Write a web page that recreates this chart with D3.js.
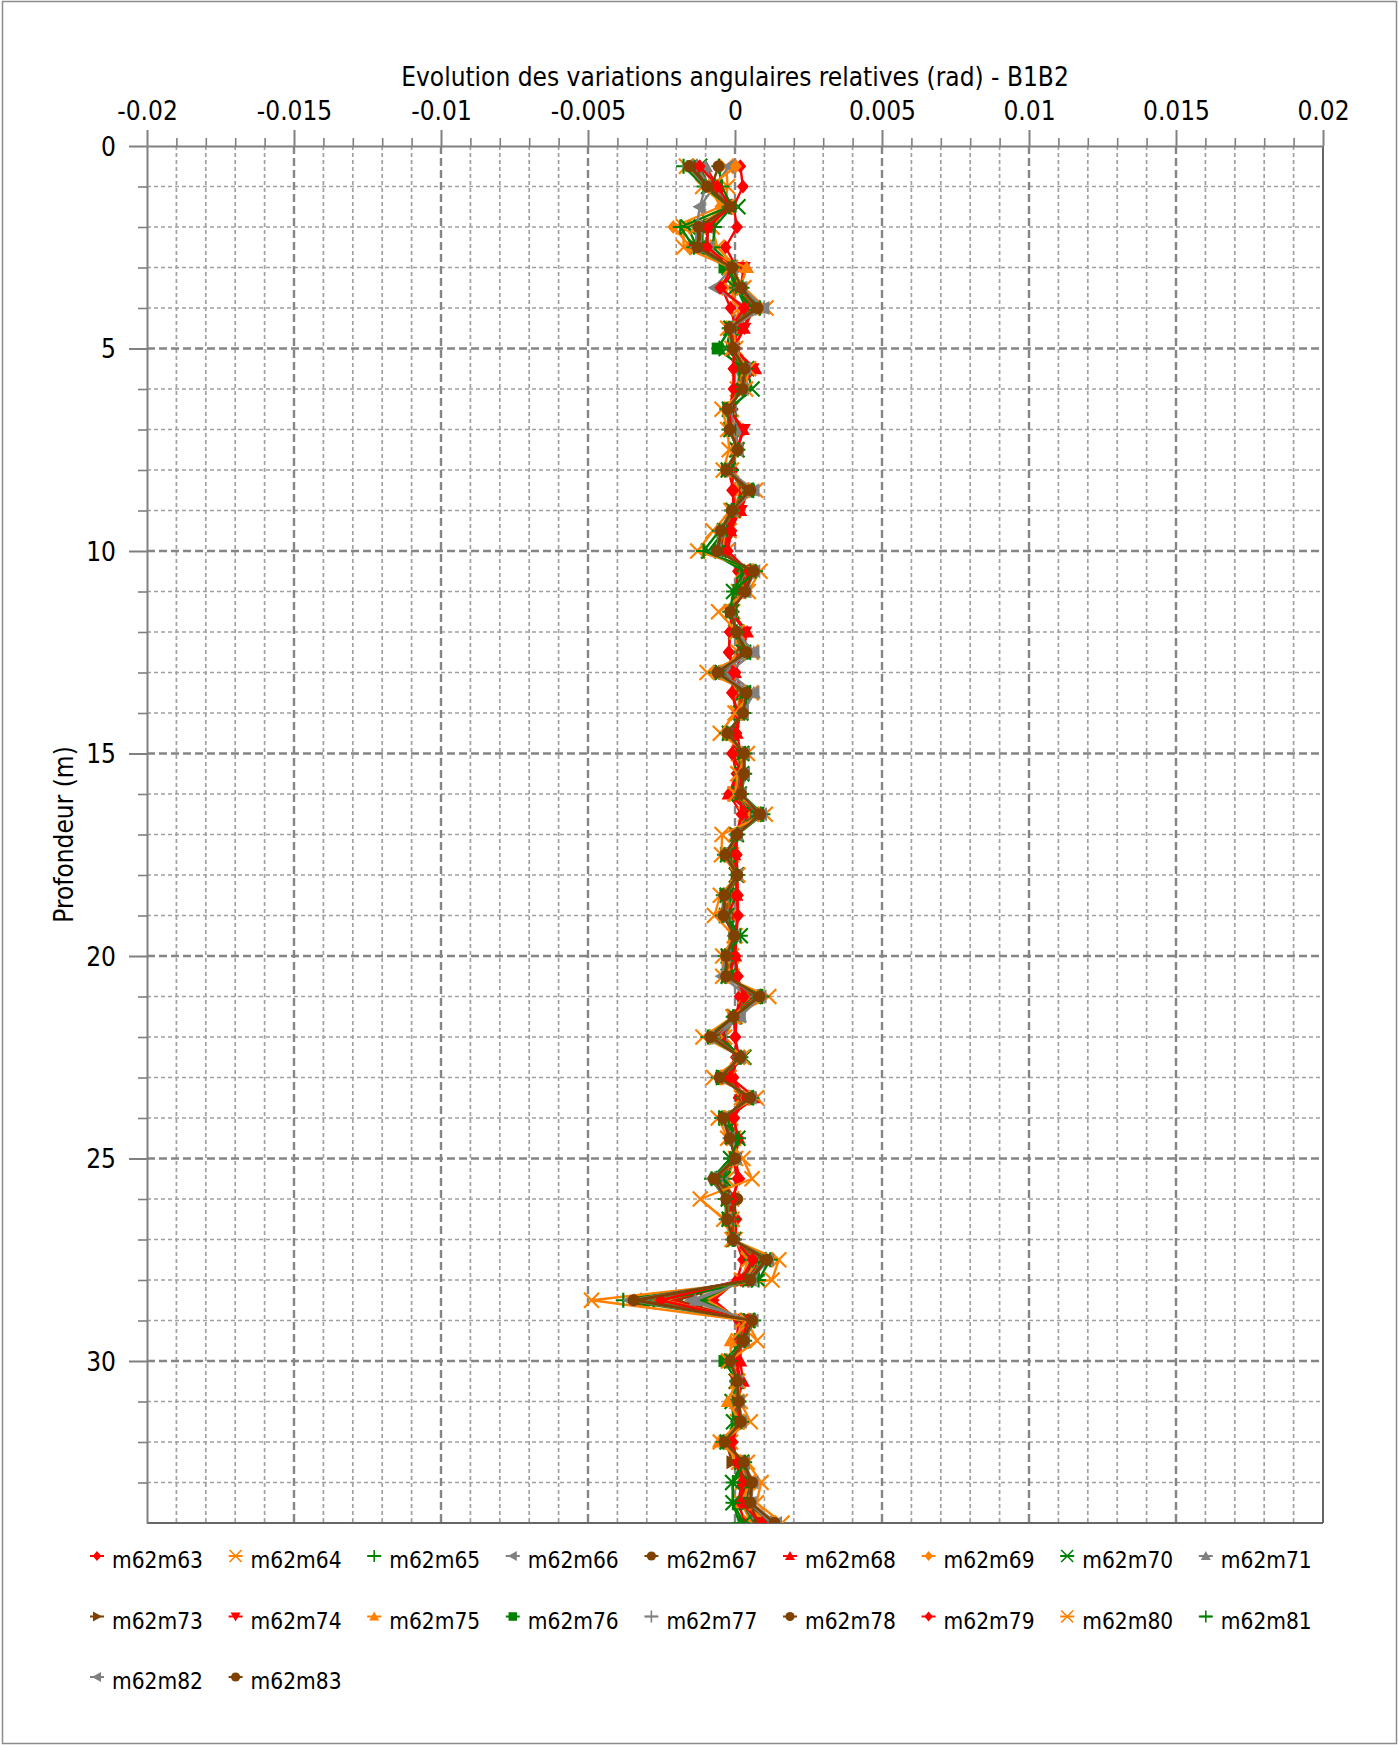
<!DOCTYPE html>
<html><head><meta charset="utf-8">
<script src="https://cdn.jsdelivr.net/npm/d3@7"></script>
<style>
html,body{margin:0;padding:0;background:#fff;}
svg text{font-family:"DejaVu Sans Condensed","DejaVu Sans",sans-serif;font-stretch:condensed;fill:#000;}
</style></head><body>
<svg id="chart" width="1399" height="1745"></svg>
<script>
// ---------------- DATA ----------------
const chartTitle = "Evolution des variations angulaires relatives (rad) - B1B2";
const yAxisTitle = "Profondeur (m)";
const xTickValues = [-0.02, -0.015, -0.01, -0.005, 0, 0.005, 0.01, 0.015, 0.02];
const xTickLabels = ["-0.02", "-0.015", "-0.01", "-0.005", "0", "0.005", "0.01", "0.015", "0.02"];
const yTickValues = [0, 5, 10, 15, 20, 25, 30];
const yTickLabels = ["0", "5", "10", "15", "20", "25", "30"];

const depths = [0.5,1,1.5,2,2.5,3,3.5,4,4.5,5,5.5,6,6.5,7,7.5,8,8.5,9,9.5,10,
10.5,11,11.5,12,12.5,13,13.5,14,14.5,15,15.5,16,16.5,17,17.5,18,18.5,19,19.5,20,
20.5,21,21.5,22,22.5,23,23.5,24,24.5,25,25.5,26,26.5,27,27.5,28,28.5,29,29.5,30,
30.5,31,31.5,32,32.5,33,33.5,34];

const seriesNames = ["m62m63","m62m64","m62m65","m62m66","m62m67","m62m68","m62m69","m62m70","m62m71",
"m62m73","m62m74","m62m75","m62m76","m62m77","m62m78","m62m79","m62m80","m62m81","m62m82","m62m83"];

const m62m63 = [0.18e-3,0.27e-3,-0.05e-3,0.07e-3,-0.32e-3,0.05e-3,-0.45e-3,-0.15e-3,0.02e-3,0.03e-3,
-0.05e-3,-0.04e-3,-0.08e-3,0.12e-3,-0.02e-3,-0.06e-3,-0.10e-3,0.02e-3,-0.12e-3,-0.25e-3,
0.10e-3,0.03e-3,-0.05e-3,-0.18e-3,-0.20e-3,0.02e-3,-0.10e-3,0.05e-3,0.03e-3,-0.10e-3,
0.05e-3,-0.20e-3,0.22e-3,0.05e-3,0.06e-3,0.08e-3,0.10e-3,0.10e-3,0.05e-3,0.02e-3,
0.10e-3,0.15e-3,0.05e-3,0.02e-3,0.03e-3,-0.05e-3,0.12e-3,-0.02e-3,0.05e-3,-0.05e-3,
0.08e-3,-0.05e-3,0.05e-3,0.02e-3,0.27e-3,0.07e-3,-0.73e-3,0.12e-3,0.05e-3,0.06e-3,
0.10e-3,0.03e-3,0.05e-3,-0.08e-3,0.06e-3,0.24e-3,0.10e-3,0.35e-3];
const m62m64 = [-0.30e-3,-0.25e-3,-0.35e-3,-0.78e-3,-0.60e-3,0.05e-3,-0.20e-3,0.15e-3,-0.05e-3,0.02e-3,
0.15e-3,0.08e-3,-0.12e-3,-0.05e-3,0.05e-3,-0.12e-3,0.20e-3,-0.05e-3,-0.20e-3,-0.28e-3,
0.25e-3,0.12e-3,-0.08e-3,0.02e-3,0.12e-3,-0.25e-3,0.15e-3,0.10e-3,-0.10e-3,0.12e-3,
0.10e-3,0.05e-3,0.35e-3,0.02e-3,-0.12e-3,0.05e-3,-0.15e-3,-0.15e-3,0,-0.12e-3,
-0.10e-3,0.35e-3,0,-0.35e-3,0.08e-3,-0.20e-3,0.22e-3,-0.15e-3,-0.05e-3,0.02e-3,
-0.28e-3,-0.12e-3,-0.10e-3,0,0.45e-3,0.22e-3,-0.95e-3,0.25e-3,0.12e-3,-0.05e-3,
0.04e-3,0.06e-3,0.08e-3,-0.15e-3,0.12e-3,0.25e-3,0.22e-3,0.55e-3];
const m62m65 = [-0.55e-3,-0.45e-3,-0.10e-3,-0.70e-3,-0.75e-3,-0.05e-3,0.05e-3,0.38e-3,-0.10e-3,-0.08e-3,
0.18e-3,0.12e-3,-0.15e-3,-0.06e-3,0.05e-3,-0.12e-3,0.25e-3,-0.03e-3,-0.25e-3,-0.32e-3,
0.30e-3,0.15e-3,-0.10e-3,0.05e-3,0.20e-3,-0.30e-3,0.18e-3,0.16e-3,-0.12e-3,0.15e-3,
0.18e-3,0.08e-3,0.45e-3,0.05e-3,-0.15e-3,0.06e-3,-0.18e-3,-0.20e-3,0.02e-3,-0.15e-3,
-0.12e-3,0.42e-3,0,-0.42e-3,0.12e-3,-0.25e-3,0.28e-3,-0.20e-3,-0.08e-3,-0.02e-3,
-0.35e-3,-0.15e-3,-0.12e-3,-0.02e-3,0.55e-3,0.28e-3,-1.15e-3,0.30e-3,0.15e-3,-0.08e-3,
0.05e-3,0.08e-3,0.10e-3,-0.18e-3,0.15e-3,0.30e-3,0.25e-3,0.65e-3];
const m62m66 = [-0.20e-3,-0.70e-3,-1.20e-3,-0.95e-3,-0.90e-3,-0.10e-3,-0.70e-3,0.45e-3,-0.12e-3,-0.05e-3,
0.20e-3,0.15e-3,-0.12e-3,-0.10e-3,0.06e-3,-0.18e-3,0.30e-3,-0.05e-3,-0.28e-3,-0.35e-3,
0.35e-3,0.18e-3,-0.10e-3,0.04e-3,0.22e-3,-0.32e-3,0.22e-3,0.15e-3,-0.14e-3,0.16e-3,
0.18e-3,0.10e-3,0.48e-3,0.04e-3,-0.18e-3,0.04e-3,-0.20e-3,-0.22e-3,0,-0.18e-3,
-0.45e-3,0.45e-3,0,-0.46e-3,0.10e-3,-0.28e-3,0.30e-3,-0.22e-3,-0.10e-3,0,
-0.42e-3,-0.18e-3,-0.15e-3,-0.04e-3,0.60e-3,0.30e-3,-1.50e-3,0.32e-3,0.16e-3,-0.10e-3,
0.04e-3,0.08e-3,0.12e-3,-0.20e-3,0.18e-3,0.32e-3,0.28e-3,0.72e-3];
const m62m67 = [-0.56e-3,-0.80e-3,-0.25e-3,-0.90e-3,-1.00e-3,-0.08e-3,0.10e-3,0.48e-3,-0.10e-3,-0.06e-3,
0.20e-3,0.16e-3,-0.16e-3,-0.12e-3,0.06e-3,-0.18e-3,0.32e-3,-0.06e-3,-0.30e-3,-0.38e-3,
0.38e-3,0.22e-3,-0.10e-3,0.03e-3,0.24e-3,-0.36e-3,0.24e-3,0.16e-3,-0.15e-3,0.18e-3,
0.18e-3,0.12e-3,0.52e-3,0.04e-3,-0.20e-3,0.05e-3,-0.22e-3,-0.24e-3,-0.01e-3,-0.18e-3,
-0.18e-3,0.50e-3,-0.03e-3,-0.50e-3,0.11e-3,-0.31e-3,0.31e-3,-0.25e-3,-0.11e-3,0.01e-3,
-0.60e-3,0.07e-3,-0.16e-3,-0.04e-3,0.65e-3,0.31e-3,-1.98e-3,0.35e-3,0.18e-3,-0.10e-3,
0.04e-3,0.08e-3,0.12e-3,-0.22e-3,0.18e-3,0.35e-3,0.31e-3,0.80e-3];
const m62m68 = [-1.00e-3,-0.60e-3,-0.30e-3,-1.00e-3,-1.40e-3,0.40e-3,0.15e-3,0.55e-3,0.30e-3,-0.04e-3,
0.69e-3,0.20e-3,-0.18e-3,0.27e-3,0.06e-3,-0.20e-3,0.34e-3,0.18e-3,-0.16e-3,-0.40e-3,
0.42e-3,0.23e-3,-0.10e-3,0.41e-3,0.25e-3,0,0.25e-3,0.18e-3,0.06e-3,0.20e-3,
0.20e-3,-0.22e-3,0.56e-3,0.05e-3,-0.02e-3,0.05e-3,0.05e-3,-0.25e-3,0,0.01e-3,
-0.20e-3,0.55e-3,-0.03e-3,-0.50e-3,0.12e-3,-0.16e-3,0.69e-3,-0.27e-3,0.12e-3,0.01e-3,
-0.48e-3,-0.20e-3,-0.18e-3,-0.05e-3,0.92e-3,0.34e-3,-2.20e-3,0.38e-3,0.20e-3,0.18e-3,
0.27e-3,0.08e-3,0.13e-3,-0.23e-3,0.20e-3,0.24e-3,0.34e-3,0.92e-3];
const m62m69 = [0.03e-3,-0.85e-3,-0.50e-3,-2.10e-3,-1.50e-3,0,0.15e-3,0.54e-3,-0.13e-3,-0.05e-3,
0.23e-3,0.18e-3,-0.18e-3,-0.13e-3,0.06e-3,-0.21e-3,0.36e-3,-0.07e-3,-0.34e-3,-0.43e-3,
0.45e-3,0.25e-3,-0.11e-3,0.04e-3,0.27e-3,-0.41e-3,0.27e-3,0.19e-3,-0.18e-3,0.21e-3,
0.21e-3,0.14e-3,0.60e-3,0.05e-3,-0.23e-3,0.05e-3,-0.25e-3,-0.27e-3,-0.01e-3,-0.21e-3,
-0.21e-3,0.59e-3,-0.04e-3,-0.59e-3,0.13e-3,-0.36e-3,0.36e-3,-0.29e-3,-0.13e-3,0.01e-3,
-0.51e-3,-0.21e-3,-0.19e-3,-0.05e-3,0.76e-3,0.36e-3,-2.40e-3,0.41e-3,0.21e-3,-0.11e-3,
0.05e-3,0.09e-3,0.14e-3,-0.25e-3,0.21e-3,0.41e-3,0.36e-3,0.94e-3];
const m62m70 = [-1.20e-3,-0.90e-3,0.10e-3,-1.60e-3,-1.30e-3,-0.20e-3,0,0.60e-3,-0.14e-3,-0.30e-3,
0.40e-3,0.58e-3,-0.19e-3,-0.14e-3,0.07e-3,-0.23e-3,0.39e-3,-0.08e-3,-0.36e-3,-0.90e-3,
0.30e-3,-0.05e-3,-0.12e-3,0.04e-3,0.29e-3,-0.44e-3,0.29e-3,0.20e-3,-0.19e-3,0.23e-3,
0.23e-3,0.15e-3,0.65e-3,0.05e-3,-0.25e-3,0.05e-3,-0.27e-3,-0.29e-3,0.18e-3,-0.23e-3,
-0.23e-3,0.63e-3,-0.04e-3,-0.63e-3,0.30e-3,-0.39e-3,0.39e-3,-0.31e-3,0.10e-3,-0.15e-3,
-0.40e-3,-0.23e-3,-0.20e-3,-0.05e-3,0.82e-3,0.80e-3,-2.55e-3,0.44e-3,0.23e-3,-0.12e-3,
0.05e-3,-0.10e-3,-0.05e-3,-0.27e-3,0.23e-3,-0.08e-3,-0.07e-3,0.30e-3];
const m62m71 = [-1.00e-3,-0.75e-3,-0.15e-3,-1.10e-3,-1.10e-3,-0.10e-3,0.18e-3,0.98e-3,-0.14e-3,-0.06e-3,
0.26e-3,0.21e-3,-0.20e-3,0.05e-3,0.07e-3,-0.24e-3,0.64e-3,-0.08e-3,-0.38e-3,-0.49e-3,
0.51e-3,0.28e-3,-0.13e-3,0.04e-3,0.64e-3,-0.22e-3,0.64e-3,0.22e-3,-0.20e-3,0.24e-3,
0.24e-3,0.16e-3,0.69e-3,0.06e-3,-0.26e-3,0.06e-3,-0.29e-3,-0.31e-3,-0.02e-3,-0.24e-3,
-0.24e-3,0.67e-3,0.18e-3,-0.67e-3,0.14e-3,-0.42e-3,0.42e-3,-0.33e-3,-0.14e-3,0.01e-3,
-0.58e-3,-0.24e-3,-0.22e-3,-0.06e-3,0.87e-3,0.42e-3,-1.35e-3,0.46e-3,0.24e-3,-0.13e-3,
0.06e-3,0.10e-3,0.16e-3,-0.29e-3,0.24e-3,0.46e-3,0.42e-3,1.07e-3];
const m62m73 = [-1.30e-3,-0.85e-3,-0.20e-3,-1.15e-3,-1.20e-3,-0.08e-3,0.18e-3,0.63e-3,-0.15e-3,-0.06e-3,
0.27e-3,0.21e-3,-0.21e-3,-0.15e-3,0.07e-3,-0.25e-3,0.43e-3,-0.08e-3,-0.39e-3,-0.50e-3,
0.52e-3,0.29e-3,-0.13e-3,0.04e-3,0.32e-3,-0.48e-3,0.32e-3,0.22e-3,-0.21e-3,0.25e-3,
0.25e-3,0.16e-3,0.71e-3,0.06e-3,-0.27e-3,0.06e-3,-0.30e-3,-0.32e-3,-0.02e-3,-0.25e-3,
-0.25e-3,0.69e-3,-0.04e-3,-0.69e-3,0.15e-3,-0.43e-3,0.43e-3,-0.34e-3,-0.15e-3,0.01e-3,
-0.60e-3,-0.25e-3,-0.22e-3,-0.06e-3,0.89e-3,0.43e-3,-2.80e-3,0.48e-3,0.25e-3,-0.13e-3,
0.06e-3,0.11e-3,0.16e-3,-0.30e-3,-0.10e-3,0.48e-3,0.43e-3,1.10e-3];
const m62m74 = [-1.40e-3,-0.90e-3,-0.20e-3,-1.20e-3,-1.40e-3,0.30e-3,0.19e-3,0.65e-3,0.32e-3,-0.06e-3,
0.60e-3,0.22e-3,-0.21e-3,0.30e-3,0.08e-3,-0.26e-3,0.44e-3,0.20e-3,-0.41e-3,-0.52e-3,
0.54e-3,0.30e-3,-0.14e-3,0.35e-3,0.33e-3,-0.50e-3,0.33e-3,0.23e-3,-0.21e-3,0.26e-3,
0.26e-3,0.17e-3,0.73e-3,0.06e-3,-0.28e-3,0.06e-3,-0.31e-3,-0.33e-3,-0.02e-3,-0.26e-3,
-0.26e-3,0.71e-3,-0.04e-3,-0.71e-3,0.15e-3,-0.44e-3,0.44e-3,-0.35e-3,-0.15e-3,0.01e-3,
-0.62e-3,-0.26e-3,-0.23e-3,-0.06e-3,0.93e-3,0.44e-3,-2.90e-3,0.49e-3,0.26e-3,-0.14e-3,
0.06e-3,0.11e-3,0.17e-3,-0.31e-3,0.26e-3,0.49e-3,0.44e-3,1.14e-3];
const m62m75 = [-1.50e-3,-0.80e-3,-0.25e-3,-1.30e-3,-1.30e-3,0.39e-3,0.19e-3,0.68e-3,-0.16e-3,-0.06e-3,
0.29e-3,0.23e-3,-0.22e-3,-0.16e-3,0.08e-3,-0.26e-3,0.46e-3,-0.09e-3,-0.42e-3,-0.54e-3,
0.56e-3,0.31e-3,-0.14e-3,0.04e-3,0.34e-3,-0.52e-3,0.34e-3,0.24e-3,-0.22e-3,0.26e-3,
0.26e-3,0.18e-3,0.76e-3,0.06e-3,-0.29e-3,0.06e-3,-0.32e-3,-0.34e-3,-0.02e-3,-0.26e-3,
-0.26e-3,0.74e-3,-0.04e-3,-0.74e-3,0.16e-3,-0.46e-3,0.46e-3,-0.36e-3,-0.16e-3,0.01e-3,
-0.64e-3,-0.26e-3,-0.24e-3,-0.06e-3,0.96e-3,0.46e-3,-3.00e-3,0.51e-3,-0.15e-3,-0.14e-3,
0.06e-3,-0.25e-3,0.18e-3,-0.55e-3,0.26e-3,0.51e-3,0.20e-3,1.18e-3];
const m62m76 = [-1.45e-3,-0.90e-3,-0.16e-3,-1.10e-3,-1.15e-3,-0.36e-3,0.20e-3,0.69e-3,-0.16e-3,-0.59e-3,
0.30e-3,0.23e-3,-0.23e-3,-0.16e-3,0.08e-3,-0.27e-3,0.47e-3,-0.09e-3,-0.43e-3,-0.55e-3,
0.58e-3,0.32e-3,-0.14e-3,0.05e-3,0.35e-3,-0.53e-3,0.35e-3,0.24e-3,-0.23e-3,0.27e-3,
0.27e-3,0.18e-3,0.77e-3,0.06e-3,-0.30e-3,0.06e-3,-0.32e-3,-0.35e-3,-0.02e-3,-0.27e-3,
-0.27e-3,0.76e-3,-0.05e-3,-0.76e-3,0.16e-3,-0.47e-3,0.47e-3,-0.37e-3,-0.16e-3,0.01e-3,
-0.66e-3,-0.27e-3,-0.24e-3,-0.06e-3,0.98e-3,0.47e-3,-3.10e-3,0.52e-3,0.27e-3,-0.36e-3,
0.06e-3,0.12e-3,0.18e-3,-0.32e-3,0.27e-3,0.52e-3,0.47e-3,1.21e-3];
const m62m77 = [-1.30e-3,-0.88e-3,-0.17e-3,-1.14e-3,-1.17e-3,-0.09e-3,0.20e-3,0.71e-3,-0.17e-3,-0.06e-3,
0.30e-3,0.24e-3,-0.23e-3,-0.17e-3,0.08e-3,-0.28e-3,0.48e-3,-0.09e-3,-0.44e-3,-0.56e-3,
0.59e-3,0.32e-3,-0.15e-3,0.05e-3,0.36e-3,-0.54e-3,0.36e-3,0.25e-3,-0.23e-3,0.28e-3,
0.28e-3,0.18e-3,0.79e-3,0.06e-3,-0.30e-3,0.06e-3,-0.33e-3,-0.36e-3,-0.02e-3,-0.28e-3,
-0.28e-3,0.77e-3,-0.05e-3,-0.77e-3,0.17e-3,-0.48e-3,0.48e-3,-0.38e-3,-0.17e-3,0.01e-3,
-0.67e-3,-0.28e-3,-0.25e-3,-0.06e-3,1.00e-3,0.48e-3,-3.20e-3,0.53e-3,0.28e-3,-0.15e-3,
0.06e-3,0.12e-3,0.18e-3,-0.33e-3,0.28e-3,0.53e-3,0.48e-3,1.23e-3];
const m62m78 = [-1.50e-3,-0.90e-3,-0.17e-3,-1.18e-3,-1.21e-3,-0.10e-3,0.21e-3,0.73e-3,-0.17e-3,-0.07e-3,
0.31e-3,0.25e-3,-0.24e-3,-0.17e-3,0.09e-3,-0.29e-3,0.49e-3,-0.10e-3,-0.46e-3,-0.58e-3,
0.61e-3,0.33e-3,-0.15e-3,0.05e-3,0.37e-3,-0.56e-3,0.37e-3,0.26e-3,-0.24e-3,0.29e-3,
0.29e-3,0.19e-3,0.82e-3,0.07e-3,-0.31e-3,0.07e-3,-0.34e-3,-0.37e-3,-0.02e-3,-0.29e-3,
-0.29e-3,0.80e-3,-0.05e-3,-0.80e-3,0.17e-3,-0.49e-3,0.49e-3,-0.39e-3,-0.17e-3,0.01e-3,
-0.69e-3,0.07e-3,-0.26e-3,-0.07e-3,1.04e-3,0.49e-3,-3.30e-3,0.55e-3,0.29e-3,-0.15e-3,
0.07e-3,0.12e-3,0.19e-3,-0.34e-3,0.29e-3,0.55e-3,0.49e-3,0.80e-3];
const m62m79 = [-1.20e-3,-0.60e-3,-0.14e-3,-0.93e-3,-0.95e-3,-0.08e-3,-0.50e-3,0.30e-3,-0.14e-3,-0.05e-3,
-0.05e-3,-0.05e-3,-0.19e-3,-0.14e-3,0.07e-3,-0.23e-3,-0.05e-3,-0.08e-3,-0.15e-3,-0.25e-3,
0.48e-3,0.26e-3,-0.12e-3,-0.16e-3,-0.22e-3,-0.05e-3,-0.10e-3,0.10e-3,0.05e-3,-0.10e-3,
0.23e-3,0.15e-3,0.24e-3,0.05e-3,0.05e-3,0.05e-3,0.05e-3,0.10e-3,-0.02e-3,0,
0.08e-3,0.30e-3,-0.04e-3,0,0.14e-3,-0.16e-3,0.39e-3,-0.05e-3,0.12e-3,0.01e-3,
0.15e-3,-0.10e-3,-0.20e-3,-0.05e-3,0.60e-3,0.20e-3,-2.52e-3,0.44e-3,0.23e-3,0.05e-3,
0.20e-3,0.10e-3,0.15e-3,-0.10e-3,0.10e-3,0.24e-3,0.20e-3,0.92e-3];
const m62m80 = [-1.65e-3,-1.10e-3,-0.30e-3,-1.75e-3,-1.75e-3,-0.15e-3,0.30e-3,1.05e-3,-0.25e-3,-0.10e-3,
0.46e-3,0.36e-3,-0.44e-3,-0.25e-3,-0.20e-3,-0.40e-3,0.70e-3,-0.14e-3,-0.75e-3,-1.27e-3,
0.85e-3,0.45e-3,-0.56e-3,0.07e-3,0.55e-3,-0.95e-3,0.55e-3,0,-0.50e-3,0.42e-3,
0.10e-3,0,1.03e-3,-0.44e-3,-0.46e-3,0.10e-3,-0.50e-3,-0.70e-3,-0.03e-3,-0.42e-3,
-0.42e-3,1.15e-3,-0.07e-3,-1.09e-3,0.25e-3,-0.73e-3,0.73e-3,-0.57e-3,-0.25e-3,0.27e-3,
0.58e-3,-1.18e-3,-0.38e-3,-0.10e-3,1.49e-3,1.26e-3,-4.88e-3,0.40e-3,0.75e-3,-0.22e-3,
0.10e-3,0.18e-3,0.52e-3,-0.50e-3,0.42e-3,0.89e-3,0.73e-3,1.60e-3];
const m62m81 = [-1.75e-3,-1.05e-3,-0.20e-3,-1.86e-3,-1.40e-3,-0.11e-3,0.24e-3,0.85e-3,-0.20e-3,-0.08e-3,
0.36e-3,0.29e-3,-0.28e-3,-0.20e-3,0.10e-3,-0.33e-3,0.57e-3,-0.11e-3,-0.53e-3,-1.07e-3,
0.70e-3,-0.05e-3,-0.18e-3,0.06e-3,0.43e-3,-0.65e-3,0.43e-3,0.30e-3,-0.28e-3,0.33e-3,
0.33e-3,0.22e-3,0.95e-3,0.08e-3,-0.36e-3,0.08e-3,-0.40e-3,-0.43e-3,0.18e-3,-0.33e-3,
-0.33e-3,0.92e-3,-0.06e-3,-0.92e-3,0.20e-3,-0.57e-3,0.57e-3,-0.45e-3,0.12e-3,-0.15e-3,
-0.80e-3,-0.33e-3,-0.30e-3,-0.08e-3,1.20e-3,0.80e-3,-3.80e-3,0.64e-3,0.33e-3,-0.18e-3,
0.08e-3,0.14e-3,0.22e-3,-0.40e-3,0.33e-3,-0.07e-3,-0.07e-3,0.15e-3];
const m62m82 = [-1.60e-3,-1.00e-3,-1.20e-3,-1.30e-3,-1.33e-3,-0.11e-3,0.23e-3,0.98e-3,-0.19e-3,-0.07e-3,
0.35e-3,0.27e-3,-0.26e-3,-0.19e-3,0.09e-3,-0.32e-3,0.64e-3,-0.11e-3,-0.50e-3,-0.64e-3,
0.67e-3,0.37e-3,-0.17e-3,0.05e-3,0.64e-3,-0.62e-3,0.64e-3,0.28e-3,-0.26e-3,0.32e-3,
0.32e-3,0.21e-3,0.90e-3,0.07e-3,-0.35e-3,0.07e-3,-0.38e-3,-0.41e-3,-0.02e-3,-0.32e-3,
-0.45e-3,0.88e-3,0.18e-3,-0.88e-3,0.19e-3,-0.55e-3,0.55e-3,-0.43e-3,-0.19e-3,0.01e-3,
-0.77e-3,-0.32e-3,-0.28e-3,-0.07e-3,1.14e-3,0.55e-3,-3.60e-3,0.61e-3,0.32e-3,-0.17e-3,
0.07e-3,0.14e-3,0.21e-3,-0.38e-3,0.32e-3,0.61e-3,0.55e-3,1.41e-3];
const m62m83 = [-1.55e-3,-0.95e-3,-0.18e-3,-1.24e-3,-1.27e-3,-0.10e-3,0.22e-3,0.77e-3,-0.18e-3,-0.07e-3,
0.33e-3,0.26e-3,-0.25e-3,-0.18e-3,0.09e-3,-0.30e-3,0.52e-3,-0.10e-3,-0.48e-3,-0.61e-3,
0.64e-3,0.35e-3,-0.16e-3,0.05e-3,0.39e-3,-0.59e-3,0.39e-3,0.27e-3,-0.25e-3,0.30e-3,
0.30e-3,0.20e-3,0.86e-3,0.07e-3,-0.33e-3,0.07e-3,-0.36e-3,-0.39e-3,-0.02e-3,-0.30e-3,
-0.30e-3,0.84e-3,-0.05e-3,-0.84e-3,0.18e-3,-0.52e-3,0.52e-3,-0.41e-3,-0.18e-3,0.01e-3,
-0.73e-3,-0.30e-3,-0.27e-3,-0.07e-3,1.09e-3,0.52e-3,-3.45e-3,0.58e-3,0.30e-3,-0.16e-3,
0.07e-3,0.13e-3,0.20e-3,-0.36e-3,0.30e-3,0.58e-3,0.52e-3,1.34e-3];

const seriesValues = [m62m63,m62m64,m62m65,m62m66,m62m67,m62m68,m62m69,m62m70,m62m71,
m62m73,m62m74,m62m75,m62m76,m62m77,m62m78,m62m79,m62m80,m62m81,m62m82,m62m83];

// ---------------- STYLE ----------------
const RED="#ff0000", ORA="#ff8000", GRN="#008000", GRY="#808080", BRN="#804000";
const seriesColors = [RED,ORA,GRN,GRY,BRN,RED,ORA,GRN,GRY,BRN,RED,ORA,GRN,GRY,BRN,RED,ORA,GRN,GRY,BRN];
const seriesShapes = ["diamond","x","plus","triLeft","circle","triUp","diamond","x","triUp","triRight",
"triDown","triUp","square","plus","circle","diamond","x","plus","triLeft","circle"];

function markerPath(shape, r){
  switch(shape){
    case "diamond": return `M0,${-r}L${r*0.85},0L0,${r}L${-r*0.85},0Z`;
    case "triUp": return `M0,${-r}L${r},${r*0.8}L${-r},${r*0.8}Z`;
    case "triDown": return `M0,${r}L${r},${-r*0.8}L${-r},${-r*0.8}Z`;
    case "triLeft": return `M${-r},0L${r*0.8},${-r}L${r*0.8},${r}Z`;
    case "triRight": return `M${r},0L${-r*0.8},${-r}L${-r*0.8},${r}Z`;
    case "square": return `M${-r*0.85},${-r*0.85}H${r*0.85}V${r*0.85}H${-r*0.85}Z`;
    case "x": return `M${-r},${-r}L${r},${r}M${-r},${r}L${r},${-r}`;
    case "plus": return `M${-r},0L${r},0M0,${-r}L0,${r}`;
    case "circle": return d3.symbol(d3.symbolCircle, Math.PI*r*r*0.85)();
  }
}
const isStroke = s => s==="x" || s==="plus";

// ---------------- CHART ----------------
const W=1399, H=1745;
const P = {left:147, right:1323, top:146, bottom:1523};
const x = d3.scaleLinear().domain([-0.02,0.02]).range([P.left,P.right]);
const y = d3.scaleLinear().domain([0,34]).range([P.top,P.bottom]);
const svg = d3.select("#chart");

svg.append("rect").attr("x",2.5).attr("y",1.5).attr("width",W-5).attr("height",H-3)
  .attr("fill","#fff").attr("stroke","#8c8c8c").attr("stroke-width",1.5);

// grid
const grid = svg.append("g");
const xMinor = d3.range(-19,20).filter(i=>i%5!==0).map(i=>i/1000);
const xMajor = xTickValues.filter(v=>v>-0.02 && v<0.02);
const yMinor = d3.range(1,34).filter(i=>i%5!==0);
const yMajor = yTickValues.filter(v=>v>0);
grid.selectAll(".vmin").data(xMinor).join("line")
  .attr("x1",d=>x(d)).attr("x2",d=>x(d)).attr("y1",P.top).attr("y2",P.bottom)
  .attr("stroke","#a0a0a0").attr("stroke-width",1.7).attr("stroke-dasharray","4,3");
grid.selectAll(".hmin").data(yMinor).join("line")
  .attr("y1",d=>y(d)).attr("y2",d=>y(d)).attr("x1",P.left).attr("x2",P.right)
  .attr("stroke","#a0a0a0").attr("stroke-width",1.7).attr("stroke-dasharray","4,3");
grid.selectAll(".vmaj").data(xMajor).join("line")
  .attr("x1",d=>x(d)).attr("x2",d=>x(d)).attr("y1",P.top).attr("y2",P.bottom)
  .attr("stroke","#858585").attr("stroke-width",2.4).attr("stroke-dasharray","8,4");
grid.selectAll(".hmaj").data(yMajor).join("line")
  .attr("y1",d=>y(d)).attr("y2",d=>y(d)).attr("x1",P.left).attr("x2",P.right)
  .attr("stroke","#858585").attr("stroke-width",2.4).attr("stroke-dasharray","8,4");

// frame right & bottom
svg.append("line").attr("x1",P.right).attr("x2",P.right).attr("y1",P.top).attr("y2",P.bottom)
  .attr("stroke","#666").attr("stroke-width",2);
svg.append("line").attr("x1",P.left).attr("x2",P.right).attr("y1",P.bottom).attr("y2",P.bottom)
  .attr("stroke","#666").attr("stroke-width",2);

// axes
function styleAxis(g){
  g.select(".domain").attr("stroke","#808080").attr("stroke-width",2);
  g.selectAll(".tick line").attr("stroke","#808080").attr("stroke-width",2);
  g.selectAll("text").attr("font-size",26).attr("font-family",null).attr("fill","#000");
}
const xMinorAx = svg.append("g").attr("transform",`translate(0,${P.top})`)
  .call(d3.axisTop(x).tickValues(xMinor).tickSize(8).tickSizeOuter(0).tickFormat(""));
xMinorAx.select(".domain").remove();
xMinorAx.selectAll(".tick line").attr("stroke","#808080").attr("stroke-width",1.6);
const xAx = svg.append("g").attr("transform",`translate(0,${P.top})`)
  .call(d3.axisTop(x).tickValues(xTickValues).tickSize(16).tickSizeOuter(0).tickPadding(10)
    .tickFormat((d,i)=>xTickLabels[i]));
styleAxis(xAx);

const yMinorAx = svg.append("g").attr("transform",`translate(${P.left},0)`)
  .call(d3.axisLeft(y).tickValues(yMinor).tickSize(9).tickSizeOuter(0).tickFormat(""));
yMinorAx.select(".domain").remove();
yMinorAx.selectAll(".tick line").attr("stroke","#808080").attr("stroke-width",1.6);
const yAx = svg.append("g").attr("transform",`translate(${P.left},0)`)
  .call(d3.axisLeft(y).tickValues(yTickValues).tickSize(18).tickSizeOuter(0).tickPadding(13)
    .tickFormat((d,i)=>yTickLabels[i]));
styleAxis(yAx);
yAx.selectAll("text").attr("dy","0.36em");

// titles
svg.append("text").attr("x",(P.left+P.right)/2).attr("y",86).attr("text-anchor","middle")
  .attr("font-size",26).text(chartTitle);
svg.append("text").attr("transform",`translate(64,${(P.top+P.bottom)/2}) rotate(-90)`)
  .attr("text-anchor","middle").attr("dy","0.36em").attr("font-size",26).text(yAxisTitle);

// series
svg.append("defs").append("clipPath").attr("id","plotclip").append("rect")
  .attr("x",P.left-12).attr("y",P.top).attr("width",P.right-P.left+24).attr("height",P.bottom-P.top);
const plot = svg.append("g").attr("clip-path","url(#plotclip)");
const line = d3.line().x(d=>x(d.v)).y(d=>y(d.d));
seriesNames.forEach((name,si)=>{
  const pts = depths.map((d,i)=>({d:d, v:seriesValues[si][i]}));
  const col = seriesColors[si], shp = seriesShapes[si];
  const g = plot.append("g").attr("class","series "+name);
  g.append("path").datum(pts).attr("d",line).attr("fill","none")
    .attr("stroke",col).attr("stroke-width",2.4).attr("stroke-linejoin","round");
  const r = (shp==="x"||shp==="plus") ? 7.5 : (shp==="circle" ? 6.5 : 7);
  g.selectAll("path.mk").data(pts).join("path").attr("class","mk")
    .attr("transform",d=>`translate(${x(d.v)},${y(d.d)})`)
    .attr("d",markerPath(shp,r))
    .attr("fill",isStroke(shp)?"none":col)
    .attr("stroke",isStroke(shp)?col:"none")
    .attr("stroke-width",2.2);
});

// legend
const leg = svg.append("g");
seriesNames.forEach((name,si)=>{
  const col = si%9, row = Math.floor(si/9);
  const cx = 97 + col*138.6, cy = 1556 + row*60.5;
  const c = seriesColors[si], shp = seriesShapes[si];
  const g = leg.append("g").attr("transform",`translate(${cx},${cy})`);
  g.append("line").attr("x1",-7).attr("x2",7).attr("stroke",c).attr("stroke-width",2);
  const r = (shp==="x"||shp==="plus") ? 6 : 5;
  g.append("path").attr("d",markerPath(shp,r))
    .attr("fill",isStroke(shp)?"none":c).attr("stroke",isStroke(shp)?c:"none").attr("stroke-width",1.6);
  g.append("text").attr("x",15).attr("y",12).attr("font-size",22.5).text(name);
});
</script>
</body></html>
